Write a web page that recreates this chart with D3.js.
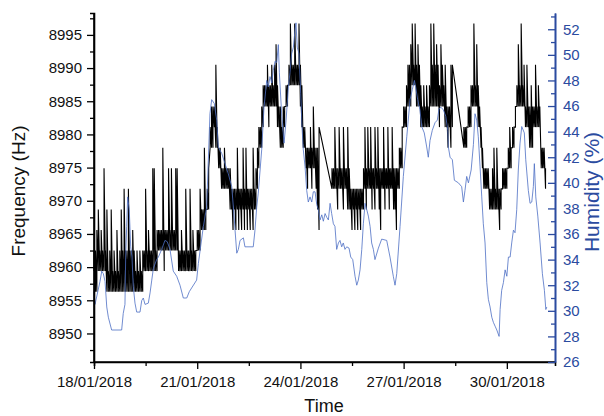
<!DOCTYPE html>
<html>
<head>
<meta charset="utf-8">
<script src="https://cdn.jsdelivr.net/npm/d3@7"></script>
<style>
  body { margin: 0; background: #fff; }
  svg { font-family: "Liberation Sans", Arial, sans-serif; }
</style>
</head>
<body>
<script>
(function() {

    var width = 604;
    var height = 416;

    // discrete frequency levels the counter reports (Hz)
    const freqLevels = [8956.3, 8959.4, 8962.5, 8965.6, 8968.7, 8971.8, 8974.9,
                        8978.0, 8981.1, 8984.2, 8987.4, 8990.5, 8993.6, 8996.7];

    // frequency per hour: [lowest, highest] level seen in that hour (index into freqLevels), null = no data
    const freqJan18 = [[1,2],[0,2],[0,3],[1,4],[1,2],[1,3],[1,2],[1,6],[1,2],[0,4],[0,1],[0,2],
                       [0,4],[0,1],[0,2],[0,1],[0,3],[0,1],[0,2],[0,4],[0,2],[0,5],[0,2],[0,2]];
    const freqJan19 = [[0,5],[0,2],[0,2],[0,3],[0,2],[0,1],[0,2],[0,1],[0,2],[0,1],[0,2],[1,2],
                       [1,5],[1,2],[1,3],[1,2],[1,2],[1,6],[1,6],[1,2],[1,3],[2,3],[2,3],[2,3]];
    const freqJan20 = [[2,7],[1,3],[2,3],[2,3],[2,6],[2,3],[2,6],[2,3],[2,3],[2,6],[2,6],[1,2],
                       [1,2],[1,3],[1,2],[1,2],[1,5],[1,2],[1,2],[1,5],[1,2],[1,3],[1,2],[1,2]];
    const freqJan21 = [[2,3],[2,3],[2,5],[3,4],[3,4],[3,7],[3,4],[4,5],[4,6],[7,8],[7,9],[7,9],
                       [8,9],[7,11],[7,8],[6,7],[6,7],[5,6],[5,6],[5,7],[5,6],[5,6],[5,6],[4,6]];
    const freqJan22 = [[4,5],[3,5],[4,5],[3,5],[4,7],[3,5],[4,5],[3,5],[4,7],[3,5],[4,7],[3,5],
                       [4,5],[3,5],[4,5],[3,7],[4,5],[4,6],[5,7],[6,8],[7,8],[7,9],[8,10],[9,10]];
    const freqJan23 = [[9,10],[9,11],[8,10],[9,10],[9,11],[9,10],[9,11],[9,12],[8,10],[8,9],[7,9],[7,8],
                       [7,9],[8,9],[9,10],[9,10],[10,11],[10,13],[10,11],[10,11],[10,13],[10,11],[10,11],[10,13]];
    const freqJan24 = [[9,11],[8,10],[7,8],[7,8],[6,7],[5,7],[6,7],[6,8],[5,7],[6,9],[6,7],[5,7],
                       [4,7],[3,8],null,null,null,null,null,null,null,null,[5,6],[5,6]];
    const freqJan25 = [[5,8],[5,6],[4,6],[5,8],[5,6],[5,6],[4,8],[5,6],[5,6],[4,8],[4,6],[4,5],
                       [3,5],[4,5],[3,5],[4,5],[3,5],[4,5],[3,5],[4,5],[4,6],[5,8],[4,6],[5,8]];
    const freqJan26 = [[5,6],[5,8],[4,6],[5,6],[4,8],[5,6],[5,8],[4,6],[3,6],[5,6],[5,8],[4,6],
                       [5,6],[5,8],[4,6],[5,6],[5,8],[4,6],[4,6],[3,6],[5,6],[5,7],[6,7],[6,8]];
    const freqJan27 = [[8,9],[8,9],[8,10],[9,11],[9,11],[9,12],[10,13],[10,11],[10,13],[9,11],[9,12],[9,11],
                       [8,10],[8,9],[8,10],[8,9],[8,10],[8,9],[8,10],[9,13],[9,11],[9,13],[9,11],[9,12]];
    const freqJan28 = [[9,11],[8,10],[9,12],[9,11],[9,10],[8,11],[8,9],[7,9],[8,9],[7,11],[8,11],null,
                       null,null,null,null,null,null,[7,8],[7,8],[7,8],[8,9],[8,9],[8,10]];
    const freqJan29 = [[9,10],[9,13],[9,10],[9,12],[8,10],[8,9],[7,8],[6,7],[5,6],[5,6],[5,6],[5,6],
                       [4,5],[4,5],[4,6],[4,7],[4,5],[4,7],[4,5],[3,5],[4,5],[5,6],[5,6],[5,6]];
    const freqJan30 = [[5,6],[6,7],[6,8],[6,7],[7,8],[7,8],[8,9],[9,10],[9,12],[9,10],[9,13],[9,10],
                       [9,11],[8,9],[8,11],[8,9],[7,9],[7,10],[7,9],[8,9],[8,11],[8,9],[8,10],[8,9]];
    const freqJan31 = [[6,7],[6,7],[6,7],[5,6]];

    // humidity readings: [hours since 18/01/2018 00:00, %]
    const humidity = [
        [0,31.5],[0.7,30.5],[4.2,32.3],[5.4,33.1],[6.5,32.9],[7.7,32.3],[8.9,30.3],[10,29.5],
        [12.3,28.5],[19.3,28.5],[20.4,29.8],[21.6,30.5],[22.1,34.2],[22.8,36.6],[23.5,38.9],
        [24.6,37.9],[25.6,35.0],[26.5,34.2],[27.4,31.9],[28.6,30.6],[29.8,29.9],[32.1,29.9],
        [33.3,30.8],[34.4,31.0],[35.6,30.5],[37.9,30.6],[39.1,31.4],[40.3,32.4],[41.4,33.3],
        [43.7,34.0],[44.9,34.2],[47.2,34.8],[49.5,35.5],[51.1,35.4],[53,34.8],[55.3,33.1],
        [57.7,32.7],[60,32.0],[62.3,31.0],[64.7,31.0],[66.5,31.5],[71.6,32.4],[72.8,33.7],
        [76.3,36.6],[78.6,38.1],[80.9,45.4],[82.1,46.5],[83.9,46.2],[85.6,44.9],[86.7,42.8],
        [89.1,42.3],[91.4,41.5],[93.7,40.7],[96.1,39.7],[97.7,37.4],[98.4,36.3],[99.6,34.5],
        [100.7,34.8],[101.9,35.5],[104.2,35.7],[105.3,35.0],[111.1,35.0],[112.3,36.3],
        [113.5,38.1],[114.6,39.2],[117,42.6],[118.6,45.9],[120.5,48.0],[121.6,47.5],
        [122.8,48.3],[124,47.8],[125.1,48.8],[126.3,49.5],[127.5,49.4],[128.6,50.8],
        [129.3,48.6],[131,45.2],[132.6,43.1],[134,44.9],[135.6,47.5],[136.7,48.6],[137.9,50.1],
        [139.1,50.6],[140.2,51.9],[140.9,52.5],[141.8,50.6],[143,50.1],[144.2,47.0],[145.1,44.4],
        [146,42.6],[147.2,41.3],[148.4,39.4],[149.5,38.5],[150.7,38.9],[151.9,38.5],[153,39.3],
        [154.2,39.3],[155.4,38.3],[156.5,37.9],[157.7,37.1],[158.9,37.5],[160,37.0],[161.2,37.6],
        [162.4,37.3],[163.5,37.1],[164.7,38.4],[165.8,37.6],[167,36.8],[168.1,36.6],[169.3,34.8],
        [170.5,35.3],[171.6,35.5],[172.8,35.0],[173.9,35.3],[175.1,34.8],[176.3,35.0],
        [177.9,34.9],[179.1,34.2],[180.5,34.0],[182.1,32.7],[183.3,32.0],[184.4,32.4],
        [185.6,33.2],[186.8,34.8],[187.9,36.8],[189.1,38.4],[190.3,37.9],[191.4,37.4],
        [192.6,36.6],[193.7,35.3],[194.9,34.8],[196,34.0],[198.4,34.9],[200.7,35.6],
        [204.2,35.5],[206.5,34.2],[208.8,32.7],[210,32.0],[211.2,32.9],[213.5,36.6],
        [215.8,40.5],[218.2,43.6],[220.5,46.5],[222.1,47.3],[223.5,48.0],[224.4,47.5],
        [225.8,46.5],[227.4,45.7],[228.6,44.4],[230.4,43.9],[232.1,42.8],[233.2,42.0],
        [234.4,43.3],[236,44.1],[237.9,44.7],[239.5,44.9],[240.7,45.8],[242.1,45.9],
        [243.7,45.7],[245.4,45.2],[246.8,44.1],[247.2,42.8],[248.4,42.0],[250,41.8],
        [251.4,40.2],[254.2,40.0],[256.5,39.7],[257.7,38.5],[258.8,39.4],[260,40.5],
        [261.2,40.0],[263.1,41.0],[264.7,43.0],[265.8,45.4],[267,44.9],[268.1,43.6],
        [269.3,41.3],[270.5,38.9],[271.6,36.8],[272.8,35.3],[274,32.2],[275.1,30.9],
        [276.3,30.3],[277.5,29.5],[278.6,29.1],[279.8,28.8],[281,28.5],[282.6,28.0],
        [283.3,30.1],[284.4,31.6],[285.6,32.2],[286.8,33.2],[288,32.7],[289.1,34.2],
        [290.3,34.2],[291.4,35.3],[292.6,36.3],[293.7,36.1],[294.9,37.9],[296,41.0],
        [297.2,43.1],[298.4,44.4],[300.2,43.9],[301.2,41.8],[303,39.4],[304.2,38.4],
        [305.4,38.5],[306.5,39.7],[307.2,41.5],[308.2,38.9],[309.6,37.4],[311.2,35.3],
        [312.8,32.9],[314.2,31.6],[315.2,30.1],[315.9,30.3]
    ];

    // tick values
    const dateTicks = ["2018-01-18", "2018-01-21", "2018-01-24", "2018-01-27", "2018-01-30"];
    const dateMinorTicks = ["2018-01-19T12:00", "2018-01-22T12:00", "2018-01-25T12:00", "2018-01-28T12:00"];
    const freqTicks = [8950, 8955, 8960, 8965, 8970, 8975, 8980, 8985, 8990, 8995];
    const freqMinorTicks = [8947.5, 8952.5, 8957.5, 8962.5, 8967.5, 8972.5, 8977.5, 8982.5, 8987.5, 8992.5, 8997.5];
    const humTicks = [26, 28, 30, 32, 34, 36, 38, 40, 42, 44, 46, 48, 50, 52];
    const humMinorTicks = [27, 29, 31, 33, 35, 37, 39, 41, 43, 45, 47, 49, 51, 53];

    const blue = "#2b4ba0";
    const lineBlue = "#4c6ec4";

    const start = Date.UTC(2018, 0, 18);
    const hourMs = 3600 * 1000;
    const parseTick = d3.utcParse("%Y-%m-%dT%H:%M");
    const toDate = s => s.length > 10 ? parseTick(s) : parseTick(s + "T00:00");

    const left = 94, right = 555, top = 13, bottom = 362;

    //scales
    const x = d3.scaleUtc()
        .domain([new Date(start), new Date(start + 321.6 * hourMs)])
        .range([left, right]);
    const yF = d3.scaleLinear().domain([8945.7, 8998.3]).range([bottom, top]);
    const yH = d3.scaleLinear().domain([26, 53.27]).range([bottom, top]);

    const svg = d3.select("body")
        .append("svg")
        .attr("width", width)
        .attr("height", height);

    //frequency trace: within every hour the counter swings from its low to its high level
    const freqHourly = [].concat(freqJan18, freqJan19, freqJan20, freqJan21, freqJan22,
        freqJan23, freqJan24, freqJan25, freqJan26, freqJan27, freqJan28, freqJan29,
        freqJan30, freqJan31);
    const freqPoints = [];
    freqHourly.forEach((range, i) => {
        if (range === null) return;
        const t = new Date(start + i * hourMs);
        freqPoints.push({ t: t, v: freqLevels[range[0]] });
        freqPoints.push({ t: t, v: freqLevels[range[1]] });
    });

    svg.append("path")
        .datum(freqPoints)
        .attr("fill", "none")
        .attr("stroke", "#000")
        .attr("stroke-width", 1.1)
        .attr("d", d3.line().x(d => x(d.t)).y(d => yF(d.v)));

    //humidity line
    svg.append("path")
        .datum(humidity)
        .attr("fill", "none")
        .attr("stroke", lineBlue)
        .attr("stroke-width", 0.8)
        .attr("d", d3.line()
            .x(d => x(new Date(start + d[0] * hourMs)))
            .y(d => yH(d[1])));

    //axes
    const fontSize = "15px";

    const xAxis = svg.append("g")
        .attr("transform", `translate(0,${bottom})`)
        .call(d3.axisBottom(x).tickValues(dateTicks.map(toDate))
            .tickFormat(d3.utcFormat("%d/%m/%Y")).tickSize(7).tickPadding(7));
    svg.append("g")
        .attr("transform", `translate(0,${bottom})`)
        .call(d3.axisBottom(x).tickValues(dateMinorTicks.map(toDate)).tickFormat("").tickSize(4));

    const yAxisL = svg.append("g")
        .attr("transform", `translate(${left},0)`)
        .call(d3.axisLeft(yF).tickValues(freqTicks).tickFormat(d3.format("d")).tickSize(7).tickPadding(5));
    svg.append("g")
        .attr("transform", `translate(${left},0)`)
        .call(d3.axisLeft(yF).tickValues(freqMinorTicks).tickFormat("").tickSize(4));

    const yAxisR = svg.append("g")
        .attr("transform", `translate(${right},0)`)
        .call(d3.axisRight(yH).tickValues(humTicks).tickSizeInner(-7).tickSizeOuter(0).tickPadding(8));
    const yAxisRMinor = svg.append("g")
        .attr("transform", `translate(${right},0)`)
        .call(d3.axisRight(yH).tickValues(humMinorTicks).tickFormat("").tickSizeInner(-4).tickSizeOuter(0));

    svg.selectAll(".domain").attr("stroke-width", 1.6);
    svg.selectAll(".tick line").attr("stroke-width", 1.3);
    svg.selectAll(".tick text").style("font-size", fontSize).attr("fill", "#111");

    xAxis.select(".domain").attr("d", `M${left},0H${right}`);
    yAxisL.select(".domain").attr("d", `M0,${bottom}V${top}`);

    [yAxisR, yAxisRMinor].forEach(g => {
        g.select(".domain").attr("stroke", blue);
        g.selectAll(".tick line").attr("stroke", blue);
        g.selectAll(".tick text").attr("fill", blue);
    });

    //axis titles
    svg.append("text")
        .attr("transform", "translate(25,191) rotate(-90)")
        .attr("text-anchor", "middle")
        .style("font-size", "19px")
        .attr("fill", "#111")
        .text("Frequency (Hz)");

    svg.append("text")
        .attr("transform", "translate(599,192) rotate(-90)")
        .attr("text-anchor", "middle")
        .style("font-size", "21px")
        .attr("fill", blue)
        .text("Humidity (%)");

    svg.append("text")
        .attr("x", 324)
        .attr("y", 412)
        .attr("text-anchor", "middle")
        .style("font-size", "18px")
        .attr("fill", "#111")
        .text("Time");

})();
</script>
</body>
</html>
